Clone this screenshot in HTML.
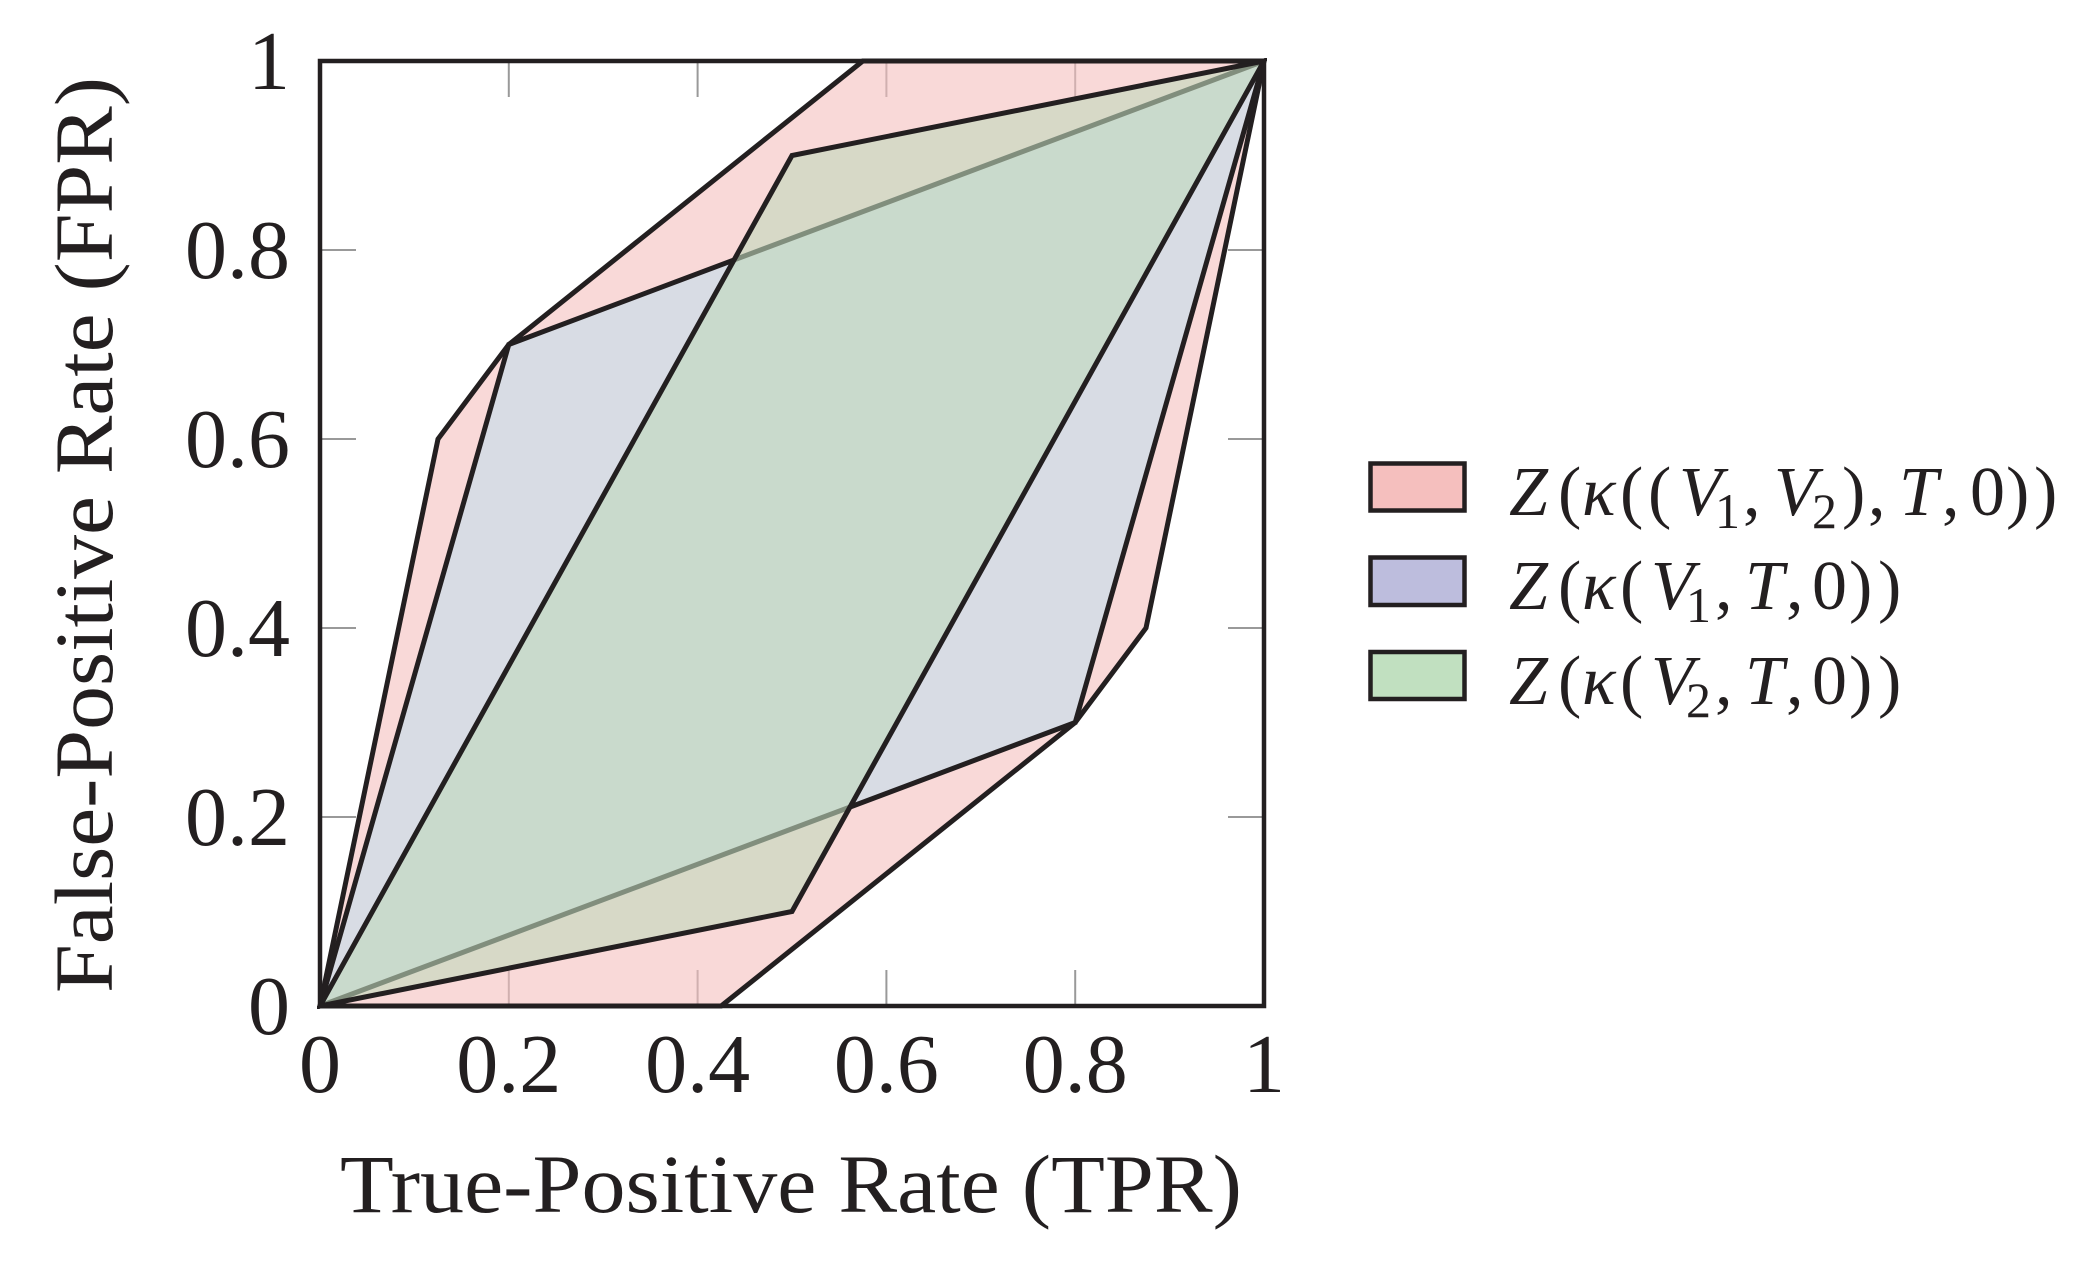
<!DOCTYPE html>
<html lang="en">
<head>
<meta charset="utf-8">
<title>TPR vs FPR zonotope chart</title>
<style>
html,body{margin:0;padding:0;background:#fff;width:2082px;height:1266px;overflow:hidden}
svg{display:block}
text{font-family:"Liberation Serif",serif;fill:#231f20}
.it{font-style:italic}
.sub{font-size:50px}
</style>
</head>
<body>
<svg id="chart" xmlns="http://www.w3.org/2000/svg" width="2082" height="1266" viewBox="0 0 2082 1266">
  <defs><clipPath id="plot-clip"><rect x="317" y="58" width="950" height="951"/></clipPath></defs>
  <rect width="2082" height="1266" fill="#fff"/>
  <g id="ticks"></g>
  <g id="series" clip-path="url(#plot-clip)"></g>
  <rect x="320" y="61" width="944" height="945" fill="none" stroke="#231f20" stroke-width="4.5"/>
  <g id="tick-labels" font-size="84"></g>
  <text x="340" y="1212" font-size="83" textLength="902" lengthAdjust="spacingAndGlyphs">True-Positive Rate (TPR)</text>
  <text transform="translate(112,993) rotate(-90)" font-size="83" textLength="916" lengthAdjust="spacingAndGlyphs">False-Positive Rate (FPR)</text>

  <g>
    <rect x="1370.5" y="463.5" width="94" height="47" fill="#f5bfbe" stroke="#231f20" stroke-width="4.5"/>
    <text y="515" font-size="70" transform="translate(-4,0)"><tspan class="it" x="1513">Z</tspan><tspan x="1562">(</tspan><tspan class="it" x="1586">κ</tspan><tspan x="1624">(</tspan><tspan x="1652">(</tspan><tspan class="it" x="1683">V</tspan><tspan class="sub" x="1719" dy="13">1</tspan><tspan x="1747" dy="-13">,</tspan><tspan class="it" x="1778">V</tspan><tspan class="sub" x="1816" dy="13">2</tspan><tspan x="1846" dy="-13">)</tspan><tspan x="1872">,</tspan><tspan class="it" x="1903">T</tspan><tspan x="1946">,</tspan><tspan x="1974">0</tspan><tspan x="2010">)</tspan><tspan x="2038">)</tspan></text>

    <rect x="1370.5" y="557.5" width="94" height="47.5" fill="#bdbddd" stroke="#231f20" stroke-width="4.5"/>
    <text y="609" font-size="70" transform="translate(-4,0)"><tspan class="it" x="1513">Z</tspan><tspan x="1562">(</tspan><tspan class="it" x="1586">κ</tspan><tspan x="1624">(</tspan><tspan class="it" x="1655">V</tspan><tspan class="sub" x="1690" dy="13">1</tspan><tspan x="1719" dy="-13">,</tspan><tspan class="it" x="1749">T</tspan><tspan x="1790">,</tspan><tspan x="1816">0</tspan><tspan x="1853">)</tspan><tspan x="1882">)</tspan></text>

    <rect x="1370.5" y="652" width="94" height="47" fill="#c1e0c0" stroke="#231f20" stroke-width="4.5"/>
    <text y="704" font-size="70" transform="translate(-4,0)"><tspan class="it" x="1513">Z</tspan><tspan x="1562">(</tspan><tspan class="it" x="1586">κ</tspan><tspan x="1624">(</tspan><tspan class="it" x="1655">V</tspan><tspan class="sub" x="1690" dy="13">2</tspan><tspan x="1719" dy="-13">,</tspan><tspan class="it" x="1749">T</tspan><tspan x="1790">,</tspan><tspan x="1816">0</tspan><tspan x="1853">)</tspan><tspan x="1882">)</tspan></text>
  </g>
</svg>
<script>
const tickValues = [0, 0.2, 0.4, 0.6, 0.8, 1];
const tickLabels = ['0', '0.2', '0.4', '0.6', '0.8', '1'];
const combinedTpr = [0, 0.125, 0.2, 0.575, 1, 0.875, 0.8, 0.425];
const combinedFpr = [0, 0.6, 0.7, 1, 1, 0.4, 0.3, 0];
const v1Tpr = [0, 0.2, 1, 0.8];
const v1Fpr = [0, 0.7, 1, 0.3];
const v2Tpr = [0, 0.5, 1, 0.5];
const v2Fpr = [0, 0.9, 1, 0.1];

const NS = 'http://www.w3.org/2000/svg';
const xAxis = v => 320 + 944 * v;
const yAxis = v => 1006 - 945 * v;

const seriesGroup = document.getElementById('series');
const tickGroup = document.getElementById('ticks');
const labelGroup = document.getElementById('tick-labels');

function drawRegion(name, tpr, fpr, fill, opacity) {
  const poly = document.createElementNS(NS, 'polygon');
  
  
  poly.setAttribute('points', tpr.map((t, i) => xAxis(t) + ',' + yAxis(fpr[i])).join(' '));
  poly.setAttribute('fill', fill);
  poly.setAttribute('fill-opacity', opacity);
  poly.setAttribute('stroke', '#231f20');
  poly.setAttribute('stroke-width', '5');
  seriesGroup.appendChild(poly);
}

drawRegion('region-v1-v2', combinedTpr, combinedFpr, '#f5bfbe', 0.6);
drawRegion('region-v1', v1Tpr, v1Fpr, '#c1deed', 0.6);
drawRegion('region-v2', v2Tpr, v2Fpr, '#bfd8bc', 0.6);

function drawTick(name, x1, y1, x2, y2) {
  const line = document.createElementNS(NS, 'line');
  
  
  line.setAttribute('x1', x1);
  line.setAttribute('y1', y1);
  line.setAttribute('x2', x2);
  line.setAttribute('y2', y2);
  line.setAttribute('stroke', '#999999');
  line.setAttribute('stroke-width', '2');
  tickGroup.appendChild(line);
}

function drawLabel(name, x, y, anchor, content) {
  const label = document.createElementNS(NS, 'text');
  
  
  label.setAttribute('x', x);
  label.setAttribute('y', y);
  label.setAttribute('text-anchor', anchor);
  label.textContent = content;
  labelGroup.appendChild(label);
}

tickValues.forEach((v, i) => {
  if (v > 0 && v < 1) {
    drawTick('x-tick-bottom', xAxis(v), yAxis(0), xAxis(v), yAxis(0) - 36);
    drawTick('x-tick-top', xAxis(v), yAxis(1), xAxis(v), yAxis(1) + 36);
    drawTick('y-tick-left', xAxis(0), yAxis(v), xAxis(0) + 36, yAxis(v));
    drawTick('y-tick-right', xAxis(1), yAxis(v), xAxis(1) - 36, yAxis(v));
  }
  drawLabel('x-tick-label', xAxis(v), 1092, 'middle', tickLabels[i]);
  drawLabel('y-tick-label', 290, yAxis(v) + 28, 'end', tickLabels[i]);
});
</script>
</body>
</html>
